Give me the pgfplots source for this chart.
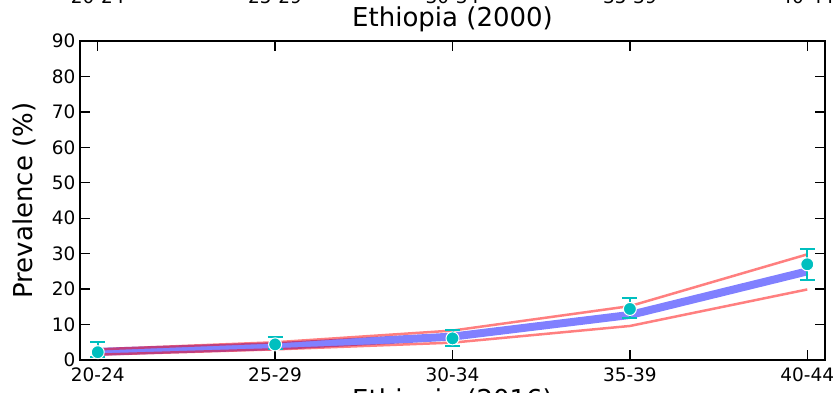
\documentclass[border=0pt]{standalone}
\usepackage{fontspec}
\setmainfont{DejaVu Sans}
\usepackage{pgfplots}
\pgfplotsset{compat=1.18}
\definecolor{mblue}{rgb}{0.5,0.5,1}
\definecolor{mcyan}{rgb}{0,0.75,0.75}
\begin{document}
\begin{tikzpicture}
\begin{axis}[
  at={(0,0)}, anchor=south west,
  scale only axis, width=745pt, height=319pt,
  xmin=-0.1, xmax=4.1, ymin=0, ymax=90,
  xtick={0,1,2,3,4},
  xticklabels={20-24,25-29,30-34,35-39,40-44},
  ytick={0,10,...,90},
  tick align=inside, major tick length=10pt,
  tick style={black, line width=1.3pt},
  axis line style={line width=2.6pt},
  axis on top,
  tick label style={font=\fontsize{18.5}{22}\selectfont},
  /pgf/number format/assume math mode=true,
  yticklabel style={xshift=-1pt},
  xticklabel style={yshift=-4.5pt},
]
\addplot[mblue, line width=8pt] coordinates {(0,2.3) (1,3.9) (2,6.6) (3,12.7) (4,25.0)};
\addplot[red, opacity=0.5, line width=2.5pt] coordinates {(0,3.0) (1,5.0) (2,8.3) (3,15.2) (4,29.8)};
\addplot[red, opacity=0.5, line width=2.5pt] coordinates {(0,1.5) (1,3.0) (2,4.9) (3,9.6) (4,19.9)};
\addplot[only marks, mark=*, mark size=6.5pt,
  mark options={fill=mcyan, draw=white, line width=1pt},
  error bars/.cd, y dir=both, y explicit,
  error bar style={mcyan, line width=2pt},
  error mark options={mcyan, line width=2pt, mark size=7.5pt, rotate=90}]
  coordinates {
  (0,2.2) += (0,3.0) -= (0,1.4)
  (1,4.4) += (0,2.0) -= (0,1.4)
  (2,6.1) += (0,2.4) -= (0,2.1)
  (3,14.4) += (0,3.2) -= (0,2.6)
  (4,27.0) += (0,4.4) -= (0,4.4)
  };
\end{axis}
% labels
\node[anchor=base, font=\fontsize{26}{30}\selectfont] at (372.5pt,333pt) {Ethiopia (2000)};
\node[anchor=base, font=\fontsize{26}{30}\selectfont] at (372.5pt,-49pt) {Ethiopia (2016)};
\node[anchor=base, rotate=90, font=\fontsize{26}{30}\selectfont] at (-47pt,159.5pt) {Prevalence (\%)};
% tick labels of the panel above (cut off)
\foreach \x/\l in {17.7/20-24, 195.1/25-29, 372.5/30-34, 549.9/35-39, 727.3/40-44}
  \node[anchor=base, font=\fontsize{18.5}{22}\selectfont] at (\x pt,356pt) {\l};
\pgfresetboundingbox
\path[use as bounding box] (-80pt,-33pt) rectangle (759pt,360pt);
\end{tikzpicture}
\end{document}
